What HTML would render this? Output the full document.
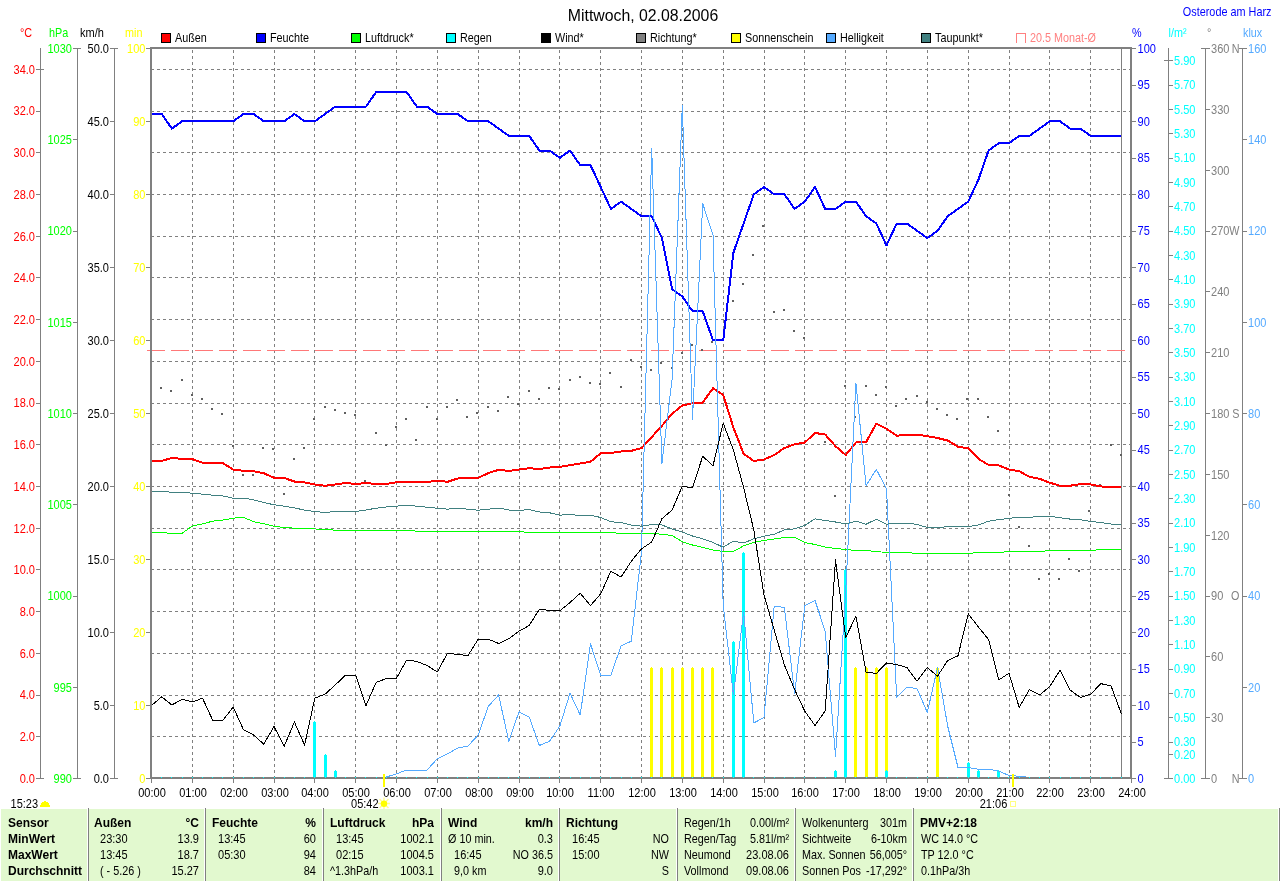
<!DOCTYPE html>
<html lang="de"><head><meta charset="utf-8"><title>Mittwoch, 02.08.2006</title>
<style>html,body{margin:0;padding:0;background:#fff}body{width:1280px;height:881px;overflow:hidden}svg{display:block;will-change:transform;font-family:"Liberation Sans",sans-serif;font-size:12px}</style></head><body>
<svg width="1280" height="881" viewBox="0 0 1280 881">
<rect width="1280" height="881" fill="#fff"/>
<text transform="translate(643 20.6) scale(0.99 1)" fill="#000" text-anchor="middle" font-size="16">Mittwoch, 02.08.2006</text>
<text transform="translate(1271.5 15.8) scale(0.905 1)" fill="#0000ff" text-anchor="end">Osterode am Harz</text>
<rect x="161.5" y="33.5" width="9" height="9" fill="#ff0000" stroke="#000" shape-rendering="crispEdges"/>
<text transform="translate(175 42) scale(0.9 1)" fill="#000">Außen</text>
<rect x="256.5" y="33.5" width="9" height="9" fill="#0000ff" stroke="#000" shape-rendering="crispEdges"/>
<text transform="translate(270 42) scale(0.9 1)" fill="#000">Feuchte</text>
<rect x="351.5" y="33.5" width="9" height="9" fill="#00ff00" stroke="#000" shape-rendering="crispEdges"/>
<text transform="translate(365 42) scale(0.9 1)" fill="#000">Luftdruck*</text>
<rect x="446.5" y="33.5" width="9" height="9" fill="#00ffff" stroke="#000" shape-rendering="crispEdges"/>
<text transform="translate(460 42) scale(0.9 1)" fill="#000">Regen</text>
<rect x="541.5" y="33.5" width="9" height="9" fill="#000" stroke="#000" shape-rendering="crispEdges"/>
<text transform="translate(555 42) scale(0.9 1)" fill="#000">Wind*</text>
<rect x="636.5" y="33.5" width="9" height="9" fill="#808080" stroke="#000" shape-rendering="crispEdges"/>
<text transform="translate(650 42) scale(0.9 1)" fill="#000">Richtung*</text>
<rect x="731.5" y="33.5" width="9" height="9" fill="#ffff00" stroke="#000" shape-rendering="crispEdges"/>
<text transform="translate(745 42) scale(0.9 1)" fill="#000">Sonnenschein</text>
<rect x="826.5" y="33.5" width="9" height="9" fill="#55aaff" stroke="#000" shape-rendering="crispEdges"/>
<text transform="translate(840 42) scale(0.9 1)" fill="#000">Helligkeit</text>
<rect x="921.5" y="33.5" width="9" height="9" fill="#408080" stroke="#000" shape-rendering="crispEdges"/>
<text transform="translate(935 42) scale(0.9 1)" fill="#000">Taupunkt*</text>
<path d="M1016.5 43V33.5h9V43" fill="none" stroke="#ff8080" shape-rendering="crispEdges"/>
<text transform="translate(1030 42) scale(0.9 1)" fill="#ff8080">20.5 Monat-Ø</text>
<g shape-rendering="crispEdges">
<text transform="translate(20 37) scale(0.9 1)" fill="#ff0000">°C</text>
<text transform="translate(49 37) scale(0.9 1)" fill="#00ff00">hPa</text>
<text transform="translate(80 37) scale(0.92 1)" fill="#000">km/h</text>
<text transform="translate(125 37) scale(0.9 1)" fill="#ffff00">min</text>
<text transform="translate(1132 37) scale(0.9 1)" fill="#0000ff">%</text>
<text transform="translate(1168.5 37) scale(0.9 1)" fill="#00ffff">l/m²</text>
<text transform="translate(1207 37) scale(0.9 1)" fill="#808080">°</text>
<text transform="translate(1243 37) scale(0.9 1)" fill="#55aaff">klux</text>
<line x1="40.5" y1="48" x2="40.5" y2="779" stroke="#808080" stroke-width="1"/>
<line x1="36" y1="778.5" x2="44" y2="778.5" stroke="#808080" stroke-width="1"/>
<text transform="translate(35 782.9) scale(0.92 1)" fill="#ff0000" text-anchor="end">0.0</text>
<line x1="36" y1="736.786" x2="41" y2="736.786" stroke="#808080" stroke-width="1"/>
<text transform="translate(35 741.186) scale(0.92 1)" fill="#ff0000" text-anchor="end">2.0</text>
<line x1="36" y1="695.071" x2="41" y2="695.071" stroke="#808080" stroke-width="1"/>
<text transform="translate(35 699.471) scale(0.92 1)" fill="#ff0000" text-anchor="end">4.0</text>
<line x1="36" y1="653.357" x2="41" y2="653.357" stroke="#808080" stroke-width="1"/>
<text transform="translate(35 657.757) scale(0.92 1)" fill="#ff0000" text-anchor="end">6.0</text>
<line x1="36" y1="611.643" x2="41" y2="611.643" stroke="#808080" stroke-width="1"/>
<text transform="translate(35 616.043) scale(0.92 1)" fill="#ff0000" text-anchor="end">8.0</text>
<line x1="36" y1="569.929" x2="41" y2="569.929" stroke="#808080" stroke-width="1"/>
<text transform="translate(35 574.329) scale(0.92 1)" fill="#ff0000" text-anchor="end">10.0</text>
<line x1="36" y1="528.214" x2="41" y2="528.214" stroke="#808080" stroke-width="1"/>
<text transform="translate(35 532.614) scale(0.92 1)" fill="#ff0000" text-anchor="end">12.0</text>
<line x1="36" y1="486.5" x2="41" y2="486.5" stroke="#808080" stroke-width="1"/>
<text transform="translate(35 490.9) scale(0.92 1)" fill="#ff0000" text-anchor="end">14.0</text>
<line x1="36" y1="444.786" x2="41" y2="444.786" stroke="#808080" stroke-width="1"/>
<text transform="translate(35 449.186) scale(0.92 1)" fill="#ff0000" text-anchor="end">16.0</text>
<line x1="36" y1="403.071" x2="41" y2="403.071" stroke="#808080" stroke-width="1"/>
<text transform="translate(35 407.471) scale(0.92 1)" fill="#ff0000" text-anchor="end">18.0</text>
<line x1="36" y1="361.357" x2="41" y2="361.357" stroke="#808080" stroke-width="1"/>
<text transform="translate(35 365.757) scale(0.92 1)" fill="#ff0000" text-anchor="end">20.0</text>
<line x1="36" y1="319.643" x2="41" y2="319.643" stroke="#808080" stroke-width="1"/>
<text transform="translate(35 324.043) scale(0.92 1)" fill="#ff0000" text-anchor="end">22.0</text>
<line x1="36" y1="277.929" x2="41" y2="277.929" stroke="#808080" stroke-width="1"/>
<text transform="translate(35 282.329) scale(0.92 1)" fill="#ff0000" text-anchor="end">24.0</text>
<line x1="36" y1="236.214" x2="41" y2="236.214" stroke="#808080" stroke-width="1"/>
<text transform="translate(35 240.614) scale(0.92 1)" fill="#ff0000" text-anchor="end">26.0</text>
<line x1="36" y1="194.5" x2="41" y2="194.5" stroke="#808080" stroke-width="1"/>
<text transform="translate(35 198.9) scale(0.92 1)" fill="#ff0000" text-anchor="end">28.0</text>
<line x1="36" y1="152.786" x2="41" y2="152.786" stroke="#808080" stroke-width="1"/>
<text transform="translate(35 157.186) scale(0.92 1)" fill="#ff0000" text-anchor="end">30.0</text>
<line x1="36" y1="111.071" x2="41" y2="111.071" stroke="#808080" stroke-width="1"/>
<text transform="translate(35 115.471) scale(0.92 1)" fill="#ff0000" text-anchor="end">32.0</text>
<line x1="36" y1="69.3571" x2="44" y2="69.3571" stroke="#808080" stroke-width="1"/>
<text transform="translate(35 73.7571) scale(0.92 1)" fill="#ff0000" text-anchor="end">34.0</text>
<line x1="77.5" y1="48" x2="77.5" y2="779" stroke="#808080" stroke-width="1"/>
<line x1="73" y1="778.5" x2="81" y2="778.5" stroke="#808080" stroke-width="1"/>
<text transform="translate(72 782.9) scale(0.92 1)" fill="#00ff00" text-anchor="end">990</text>
<line x1="73" y1="687.25" x2="78" y2="687.25" stroke="#808080" stroke-width="1"/>
<text transform="translate(72 691.65) scale(0.92 1)" fill="#00ff00" text-anchor="end">995</text>
<line x1="73" y1="596" x2="78" y2="596" stroke="#808080" stroke-width="1"/>
<text transform="translate(72 600.4) scale(0.92 1)" fill="#00ff00" text-anchor="end">1000</text>
<line x1="73" y1="504.75" x2="78" y2="504.75" stroke="#808080" stroke-width="1"/>
<text transform="translate(72 509.15) scale(0.92 1)" fill="#00ff00" text-anchor="end">1005</text>
<line x1="73" y1="413.5" x2="78" y2="413.5" stroke="#808080" stroke-width="1"/>
<text transform="translate(72 417.9) scale(0.92 1)" fill="#00ff00" text-anchor="end">1010</text>
<line x1="73" y1="322.25" x2="78" y2="322.25" stroke="#808080" stroke-width="1"/>
<text transform="translate(72 326.65) scale(0.92 1)" fill="#00ff00" text-anchor="end">1015</text>
<line x1="73" y1="231" x2="78" y2="231" stroke="#808080" stroke-width="1"/>
<text transform="translate(72 235.4) scale(0.92 1)" fill="#00ff00" text-anchor="end">1020</text>
<line x1="73" y1="139.75" x2="78" y2="139.75" stroke="#808080" stroke-width="1"/>
<text transform="translate(72 144.15) scale(0.92 1)" fill="#00ff00" text-anchor="end">1025</text>
<line x1="73" y1="48.5" x2="81" y2="48.5" stroke="#808080" stroke-width="1"/>
<text transform="translate(72 52.9) scale(0.92 1)" fill="#00ff00" text-anchor="end">1030</text>
<line x1="114.5" y1="48" x2="114.5" y2="779" stroke="#808080" stroke-width="1"/>
<line x1="110" y1="778.5" x2="118" y2="778.5" stroke="#808080" stroke-width="1"/>
<text transform="translate(109 782.9) scale(0.92 1)" fill="#000" text-anchor="end">0.0</text>
<line x1="110" y1="705.5" x2="115" y2="705.5" stroke="#808080" stroke-width="1"/>
<text transform="translate(109 709.9) scale(0.92 1)" fill="#000" text-anchor="end">5.0</text>
<line x1="110" y1="632.5" x2="115" y2="632.5" stroke="#808080" stroke-width="1"/>
<text transform="translate(109 636.9) scale(0.92 1)" fill="#000" text-anchor="end">10.0</text>
<line x1="110" y1="559.5" x2="115" y2="559.5" stroke="#808080" stroke-width="1"/>
<text transform="translate(109 563.9) scale(0.92 1)" fill="#000" text-anchor="end">15.0</text>
<line x1="110" y1="486.5" x2="115" y2="486.5" stroke="#808080" stroke-width="1"/>
<text transform="translate(109 490.9) scale(0.92 1)" fill="#000" text-anchor="end">20.0</text>
<line x1="110" y1="413.5" x2="115" y2="413.5" stroke="#808080" stroke-width="1"/>
<text transform="translate(109 417.9) scale(0.92 1)" fill="#000" text-anchor="end">25.0</text>
<line x1="110" y1="340.5" x2="115" y2="340.5" stroke="#808080" stroke-width="1"/>
<text transform="translate(109 344.9) scale(0.92 1)" fill="#000" text-anchor="end">30.0</text>
<line x1="110" y1="267.5" x2="115" y2="267.5" stroke="#808080" stroke-width="1"/>
<text transform="translate(109 271.9) scale(0.92 1)" fill="#000" text-anchor="end">35.0</text>
<line x1="110" y1="194.5" x2="115" y2="194.5" stroke="#808080" stroke-width="1"/>
<text transform="translate(109 198.9) scale(0.92 1)" fill="#000" text-anchor="end">40.0</text>
<line x1="110" y1="121.5" x2="115" y2="121.5" stroke="#808080" stroke-width="1"/>
<text transform="translate(109 125.9) scale(0.92 1)" fill="#000" text-anchor="end">45.0</text>
<line x1="110" y1="48.5" x2="118" y2="48.5" stroke="#808080" stroke-width="1"/>
<text transform="translate(109 52.9) scale(0.92 1)" fill="#000" text-anchor="end">50.0</text>
<line x1="146" y1="778.5" x2="150" y2="778.5" stroke="#808080" stroke-width="1"/>
<text transform="translate(145.5 782.9) scale(0.92 1)" fill="#ffff00" text-anchor="end">0</text>
<line x1="146" y1="705.5" x2="150" y2="705.5" stroke="#808080" stroke-width="1"/>
<text transform="translate(145.5 709.9) scale(0.92 1)" fill="#ffff00" text-anchor="end">10</text>
<line x1="146" y1="632.5" x2="150" y2="632.5" stroke="#808080" stroke-width="1"/>
<text transform="translate(145.5 636.9) scale(0.92 1)" fill="#ffff00" text-anchor="end">20</text>
<line x1="146" y1="559.5" x2="150" y2="559.5" stroke="#808080" stroke-width="1"/>
<text transform="translate(145.5 563.9) scale(0.92 1)" fill="#ffff00" text-anchor="end">30</text>
<line x1="146" y1="486.5" x2="150" y2="486.5" stroke="#808080" stroke-width="1"/>
<text transform="translate(145.5 490.9) scale(0.92 1)" fill="#ffff00" text-anchor="end">40</text>
<line x1="146" y1="413.5" x2="150" y2="413.5" stroke="#808080" stroke-width="1"/>
<text transform="translate(145.5 417.9) scale(0.92 1)" fill="#ffff00" text-anchor="end">50</text>
<line x1="146" y1="340.5" x2="150" y2="340.5" stroke="#808080" stroke-width="1"/>
<text transform="translate(145.5 344.9) scale(0.92 1)" fill="#ffff00" text-anchor="end">60</text>
<line x1="146" y1="267.5" x2="150" y2="267.5" stroke="#808080" stroke-width="1"/>
<text transform="translate(145.5 271.9) scale(0.92 1)" fill="#ffff00" text-anchor="end">70</text>
<line x1="146" y1="194.5" x2="150" y2="194.5" stroke="#808080" stroke-width="1"/>
<text transform="translate(145.5 198.9) scale(0.92 1)" fill="#ffff00" text-anchor="end">80</text>
<line x1="146" y1="121.5" x2="150" y2="121.5" stroke="#808080" stroke-width="1"/>
<text transform="translate(145.5 125.9) scale(0.92 1)" fill="#ffff00" text-anchor="end">90</text>
<line x1="146" y1="48.5" x2="150" y2="48.5" stroke="#808080" stroke-width="1"/>
<text transform="translate(145.5 52.9) scale(0.92 1)" fill="#ffff00" text-anchor="end">100</text>
<line x1="1132" y1="778.5" x2="1136" y2="778.5" stroke="#808080" stroke-width="1"/>
<text transform="translate(1137.5 782.9) scale(0.92 1)" fill="#0000ff">0</text>
<line x1="1132" y1="742" x2="1136" y2="742" stroke="#808080" stroke-width="1"/>
<text transform="translate(1137.5 746.4) scale(0.92 1)" fill="#0000ff">5</text>
<line x1="1132" y1="705.5" x2="1136" y2="705.5" stroke="#808080" stroke-width="1"/>
<text transform="translate(1137.5 709.9) scale(0.92 1)" fill="#0000ff">10</text>
<line x1="1132" y1="669" x2="1136" y2="669" stroke="#808080" stroke-width="1"/>
<text transform="translate(1137.5 673.4) scale(0.92 1)" fill="#0000ff">15</text>
<line x1="1132" y1="632.5" x2="1136" y2="632.5" stroke="#808080" stroke-width="1"/>
<text transform="translate(1137.5 636.9) scale(0.92 1)" fill="#0000ff">20</text>
<line x1="1132" y1="596" x2="1136" y2="596" stroke="#808080" stroke-width="1"/>
<text transform="translate(1137.5 600.4) scale(0.92 1)" fill="#0000ff">25</text>
<line x1="1132" y1="559.5" x2="1136" y2="559.5" stroke="#808080" stroke-width="1"/>
<text transform="translate(1137.5 563.9) scale(0.92 1)" fill="#0000ff">30</text>
<line x1="1132" y1="523" x2="1136" y2="523" stroke="#808080" stroke-width="1"/>
<text transform="translate(1137.5 527.4) scale(0.92 1)" fill="#0000ff">35</text>
<line x1="1132" y1="486.5" x2="1136" y2="486.5" stroke="#808080" stroke-width="1"/>
<text transform="translate(1137.5 490.9) scale(0.92 1)" fill="#0000ff">40</text>
<line x1="1132" y1="450" x2="1136" y2="450" stroke="#808080" stroke-width="1"/>
<text transform="translate(1137.5 454.4) scale(0.92 1)" fill="#0000ff">45</text>
<line x1="1132" y1="413.5" x2="1136" y2="413.5" stroke="#808080" stroke-width="1"/>
<text transform="translate(1137.5 417.9) scale(0.92 1)" fill="#0000ff">50</text>
<line x1="1132" y1="377" x2="1136" y2="377" stroke="#808080" stroke-width="1"/>
<text transform="translate(1137.5 381.4) scale(0.92 1)" fill="#0000ff">55</text>
<line x1="1132" y1="340.5" x2="1136" y2="340.5" stroke="#808080" stroke-width="1"/>
<text transform="translate(1137.5 344.9) scale(0.92 1)" fill="#0000ff">60</text>
<line x1="1132" y1="304" x2="1136" y2="304" stroke="#808080" stroke-width="1"/>
<text transform="translate(1137.5 308.4) scale(0.92 1)" fill="#0000ff">65</text>
<line x1="1132" y1="267.5" x2="1136" y2="267.5" stroke="#808080" stroke-width="1"/>
<text transform="translate(1137.5 271.9) scale(0.92 1)" fill="#0000ff">70</text>
<line x1="1132" y1="231" x2="1136" y2="231" stroke="#808080" stroke-width="1"/>
<text transform="translate(1137.5 235.4) scale(0.92 1)" fill="#0000ff">75</text>
<line x1="1132" y1="194.5" x2="1136" y2="194.5" stroke="#808080" stroke-width="1"/>
<text transform="translate(1137.5 198.9) scale(0.92 1)" fill="#0000ff">80</text>
<line x1="1132" y1="158" x2="1136" y2="158" stroke="#808080" stroke-width="1"/>
<text transform="translate(1137.5 162.4) scale(0.92 1)" fill="#0000ff">85</text>
<line x1="1132" y1="121.5" x2="1136" y2="121.5" stroke="#808080" stroke-width="1"/>
<text transform="translate(1137.5 125.9) scale(0.92 1)" fill="#0000ff">90</text>
<line x1="1132" y1="85" x2="1136" y2="85" stroke="#808080" stroke-width="1"/>
<text transform="translate(1137.5 89.4) scale(0.92 1)" fill="#0000ff">95</text>
<line x1="1132" y1="48.5" x2="1136" y2="48.5" stroke="#808080" stroke-width="1"/>
<text transform="translate(1137.5 52.9) scale(0.92 1)" fill="#0000ff">100</text>
<line x1="1168.5" y1="48" x2="1168.5" y2="779" stroke="#808080" stroke-width="1"/>
<line x1="1164" y1="778.5" x2="1173" y2="778.5" stroke="#808080" stroke-width="1"/>
<text transform="translate(1174 782.9) scale(0.92 1)" fill="#00ffff">0.00</text>
<line x1="1168" y1="754.167" x2="1173" y2="754.167" stroke="#808080" stroke-width="1"/>
<text transform="translate(1174 758.567) scale(0.92 1)" fill="#00ffff">0.20</text>
<line x1="1168" y1="742" x2="1173" y2="742" stroke="#808080" stroke-width="1"/>
<text transform="translate(1174 746.4) scale(0.92 1)" fill="#00ffff">0.30</text>
<line x1="1168" y1="717.667" x2="1173" y2="717.667" stroke="#808080" stroke-width="1"/>
<text transform="translate(1174 722.067) scale(0.92 1)" fill="#00ffff">0.50</text>
<line x1="1168" y1="693.333" x2="1173" y2="693.333" stroke="#808080" stroke-width="1"/>
<text transform="translate(1174 697.733) scale(0.92 1)" fill="#00ffff">0.70</text>
<line x1="1168" y1="669" x2="1173" y2="669" stroke="#808080" stroke-width="1"/>
<text transform="translate(1174 673.4) scale(0.92 1)" fill="#00ffff">0.90</text>
<line x1="1168" y1="644.667" x2="1173" y2="644.667" stroke="#808080" stroke-width="1"/>
<text transform="translate(1174 649.067) scale(0.92 1)" fill="#00ffff">1.10</text>
<line x1="1168" y1="620.333" x2="1173" y2="620.333" stroke="#808080" stroke-width="1"/>
<text transform="translate(1174 624.733) scale(0.92 1)" fill="#00ffff">1.30</text>
<line x1="1168" y1="596" x2="1173" y2="596" stroke="#808080" stroke-width="1"/>
<text transform="translate(1174 600.4) scale(0.92 1)" fill="#00ffff">1.50</text>
<line x1="1168" y1="571.667" x2="1173" y2="571.667" stroke="#808080" stroke-width="1"/>
<text transform="translate(1174 576.067) scale(0.92 1)" fill="#00ffff">1.70</text>
<line x1="1168" y1="547.333" x2="1173" y2="547.333" stroke="#808080" stroke-width="1"/>
<text transform="translate(1174 551.733) scale(0.92 1)" fill="#00ffff">1.90</text>
<line x1="1168" y1="523" x2="1173" y2="523" stroke="#808080" stroke-width="1"/>
<text transform="translate(1174 527.4) scale(0.92 1)" fill="#00ffff">2.10</text>
<line x1="1168" y1="498.667" x2="1173" y2="498.667" stroke="#808080" stroke-width="1"/>
<text transform="translate(1174 503.067) scale(0.92 1)" fill="#00ffff">2.30</text>
<line x1="1168" y1="474.333" x2="1173" y2="474.333" stroke="#808080" stroke-width="1"/>
<text transform="translate(1174 478.733) scale(0.92 1)" fill="#00ffff">2.50</text>
<line x1="1168" y1="450" x2="1173" y2="450" stroke="#808080" stroke-width="1"/>
<text transform="translate(1174 454.4) scale(0.92 1)" fill="#00ffff">2.70</text>
<line x1="1168" y1="425.667" x2="1173" y2="425.667" stroke="#808080" stroke-width="1"/>
<text transform="translate(1174 430.067) scale(0.92 1)" fill="#00ffff">2.90</text>
<line x1="1168" y1="401.333" x2="1173" y2="401.333" stroke="#808080" stroke-width="1"/>
<text transform="translate(1174 405.733) scale(0.92 1)" fill="#00ffff">3.10</text>
<line x1="1168" y1="377" x2="1173" y2="377" stroke="#808080" stroke-width="1"/>
<text transform="translate(1174 381.4) scale(0.92 1)" fill="#00ffff">3.30</text>
<line x1="1168" y1="352.667" x2="1173" y2="352.667" stroke="#808080" stroke-width="1"/>
<text transform="translate(1174 357.067) scale(0.92 1)" fill="#00ffff">3.50</text>
<line x1="1168" y1="328.333" x2="1173" y2="328.333" stroke="#808080" stroke-width="1"/>
<text transform="translate(1174 332.733) scale(0.92 1)" fill="#00ffff">3.70</text>
<line x1="1168" y1="304" x2="1173" y2="304" stroke="#808080" stroke-width="1"/>
<text transform="translate(1174 308.4) scale(0.92 1)" fill="#00ffff">3.90</text>
<line x1="1168" y1="279.667" x2="1173" y2="279.667" stroke="#808080" stroke-width="1"/>
<text transform="translate(1174 284.067) scale(0.92 1)" fill="#00ffff">4.10</text>
<line x1="1168" y1="255.333" x2="1173" y2="255.333" stroke="#808080" stroke-width="1"/>
<text transform="translate(1174 259.733) scale(0.92 1)" fill="#00ffff">4.30</text>
<line x1="1168" y1="231" x2="1173" y2="231" stroke="#808080" stroke-width="1"/>
<text transform="translate(1174 235.4) scale(0.92 1)" fill="#00ffff">4.50</text>
<line x1="1168" y1="206.667" x2="1173" y2="206.667" stroke="#808080" stroke-width="1"/>
<text transform="translate(1174 211.067) scale(0.92 1)" fill="#00ffff">4.70</text>
<line x1="1168" y1="182.333" x2="1173" y2="182.333" stroke="#808080" stroke-width="1"/>
<text transform="translate(1174 186.733) scale(0.92 1)" fill="#00ffff">4.90</text>
<line x1="1168" y1="158" x2="1173" y2="158" stroke="#808080" stroke-width="1"/>
<text transform="translate(1174 162.4) scale(0.92 1)" fill="#00ffff">5.10</text>
<line x1="1168" y1="133.667" x2="1173" y2="133.667" stroke="#808080" stroke-width="1"/>
<text transform="translate(1174 138.067) scale(0.92 1)" fill="#00ffff">5.30</text>
<line x1="1168" y1="109.333" x2="1173" y2="109.333" stroke="#808080" stroke-width="1"/>
<text transform="translate(1174 113.733) scale(0.92 1)" fill="#00ffff">5.50</text>
<line x1="1168" y1="85" x2="1173" y2="85" stroke="#808080" stroke-width="1"/>
<text transform="translate(1174 89.4) scale(0.92 1)" fill="#00ffff">5.70</text>
<line x1="1164" y1="60.6667" x2="1173" y2="60.6667" stroke="#808080" stroke-width="1"/>
<text transform="translate(1174 65.0667) scale(0.92 1)" fill="#00ffff">5.90</text>
<line x1="1205.5" y1="48" x2="1205.5" y2="779" stroke="#808080" stroke-width="1"/>
<line x1="1201" y1="778.5" x2="1210" y2="778.5" stroke="#808080" stroke-width="1"/>
<text transform="translate(1211 782.9) scale(0.92 1)" fill="#808080">0</text>
<text transform="translate(1239.5 782.9) scale(0.9 1)" fill="#808080" text-anchor="end">N</text>
<line x1="1205" y1="717.667" x2="1210" y2="717.667" stroke="#808080" stroke-width="1"/>
<text transform="translate(1211 722.067) scale(0.92 1)" fill="#808080">30</text>
<line x1="1205" y1="656.833" x2="1210" y2="656.833" stroke="#808080" stroke-width="1"/>
<text transform="translate(1211 661.233) scale(0.92 1)" fill="#808080">60</text>
<line x1="1205" y1="596" x2="1210" y2="596" stroke="#808080" stroke-width="1"/>
<text transform="translate(1211 600.4) scale(0.92 1)" fill="#808080">90</text>
<text transform="translate(1239.5 600.4) scale(0.9 1)" fill="#808080" text-anchor="end">O</text>
<line x1="1205" y1="535.167" x2="1210" y2="535.167" stroke="#808080" stroke-width="1"/>
<text transform="translate(1211 539.567) scale(0.92 1)" fill="#808080">120</text>
<line x1="1205" y1="474.333" x2="1210" y2="474.333" stroke="#808080" stroke-width="1"/>
<text transform="translate(1211 478.733) scale(0.92 1)" fill="#808080">150</text>
<line x1="1205" y1="413.5" x2="1210" y2="413.5" stroke="#808080" stroke-width="1"/>
<text transform="translate(1211 417.9) scale(0.92 1)" fill="#808080">180</text>
<text transform="translate(1239.5 417.9) scale(0.9 1)" fill="#808080" text-anchor="end">S</text>
<line x1="1205" y1="352.667" x2="1210" y2="352.667" stroke="#808080" stroke-width="1"/>
<text transform="translate(1211 357.067) scale(0.92 1)" fill="#808080">210</text>
<line x1="1205" y1="291.833" x2="1210" y2="291.833" stroke="#808080" stroke-width="1"/>
<text transform="translate(1211 296.233) scale(0.92 1)" fill="#808080">240</text>
<line x1="1205" y1="231" x2="1210" y2="231" stroke="#808080" stroke-width="1"/>
<text transform="translate(1211 235.4) scale(0.92 1)" fill="#808080">270</text>
<text transform="translate(1239.5 235.4) scale(0.9 1)" fill="#808080" text-anchor="end">W</text>
<line x1="1205" y1="170.167" x2="1210" y2="170.167" stroke="#808080" stroke-width="1"/>
<text transform="translate(1211 174.567) scale(0.92 1)" fill="#808080">300</text>
<line x1="1205" y1="109.333" x2="1210" y2="109.333" stroke="#808080" stroke-width="1"/>
<text transform="translate(1211 113.733) scale(0.92 1)" fill="#808080">330</text>
<line x1="1201" y1="48.5" x2="1210" y2="48.5" stroke="#808080" stroke-width="1"/>
<text transform="translate(1211 52.9) scale(0.92 1)" fill="#808080">360</text>
<text transform="translate(1239.5 52.9) scale(0.9 1)" fill="#808080" text-anchor="end">N</text>
<line x1="1242.5" y1="48" x2="1242.5" y2="779" stroke="#808080" stroke-width="1"/>
<line x1="1239" y1="778.5" x2="1247" y2="778.5" stroke="#808080" stroke-width="1"/>
<text transform="translate(1248 782.9) scale(0.92 1)" fill="#55aaff">0</text>
<line x1="1242" y1="687.25" x2="1247" y2="687.25" stroke="#808080" stroke-width="1"/>
<text transform="translate(1248 691.65) scale(0.92 1)" fill="#55aaff">20</text>
<line x1="1242" y1="596" x2="1247" y2="596" stroke="#808080" stroke-width="1"/>
<text transform="translate(1248 600.4) scale(0.92 1)" fill="#55aaff">40</text>
<line x1="1242" y1="504.75" x2="1247" y2="504.75" stroke="#808080" stroke-width="1"/>
<text transform="translate(1248 509.15) scale(0.92 1)" fill="#55aaff">60</text>
<line x1="1242" y1="413.5" x2="1247" y2="413.5" stroke="#808080" stroke-width="1"/>
<text transform="translate(1248 417.9) scale(0.92 1)" fill="#55aaff">80</text>
<line x1="1242" y1="322.25" x2="1247" y2="322.25" stroke="#808080" stroke-width="1"/>
<text transform="translate(1248 326.65) scale(0.92 1)" fill="#55aaff">100</text>
<line x1="1242" y1="231" x2="1247" y2="231" stroke="#808080" stroke-width="1"/>
<text transform="translate(1248 235.4) scale(0.92 1)" fill="#55aaff">120</text>
<line x1="1242" y1="139.75" x2="1247" y2="139.75" stroke="#808080" stroke-width="1"/>
<text transform="translate(1248 144.15) scale(0.92 1)" fill="#55aaff">140</text>
<line x1="1239" y1="48.5" x2="1247" y2="48.5" stroke="#808080" stroke-width="1"/>
<text transform="translate(1248 52.9) scale(0.92 1)" fill="#55aaff">160</text>
</g>
<g shape-rendering="crispEdges">
<path d="M151 736.5H1130M151 695.5H1130M151 653.5H1130M151 611.5H1130M151 569.5H1130M151 528.5H1130M151 486.5H1130M151 444.5H1130M151 403.5H1130M151 361.5H1130M151 319.5H1130M151 277.5H1130M151 236.5H1130M151 194.5H1130M151 152.5H1130M151 111.5H1130M151 69.5H1130M192.5 50V777M233.5 50V777M274.5 50V777M314.5 50V777M355.5 50V777M396.5 50V777M437.5 50V777M478.5 50V777M519.5 50V777M559.5 50V777M600.5 50V777M641.5 50V777M682.5 50V777M723.5 50V777M764.5 50V777M804.5 50V777M845.5 50V777M886.5 50V777M927.5 50V777M968.5 50V777M1009.5 50V777M1049.5 50V777M1090.5 50V777" stroke="#808080" stroke-width="1" stroke-dasharray="3 3" fill="none"/>
<line x1="1121.5" y1="49" x2="1121.5" y2="778" stroke="#808080" stroke-width="1"/>
</g>
<line x1="147" y1="350.5" x2="1125" y2="350.5" stroke="#ff7878" stroke-width="1" stroke-dasharray="18 6" shape-rendering="crispEdges"/>
<g shape-rendering="crispEdges">
<path d="M650 668h1v-1h1v1h1v110h-3zM660 668h1v-1h1v1h1v110h-3zM671 668h1v-1h1v1h1v110h-3zM681 668h1v-1h1v1h1v110h-3zM691 668h1v-1h1v1h1v110h-3zM701 668h1v-1h1v1h1v110h-3zM711 668h1v-1h1v1h1v110h-3zM854 668h1v-1h1v1h1v110h-3zM865 668h1v-1h1v1h1v110h-3zM875 668h1v-1h1v1h1v110h-3zM885 668h1v-1h1v1h1v110h-3zM936 668h1v-1h1v1h1v110h-3z" fill="#ffff00"/>
<path d="M313 722h1v-1h1v1h1v56h-3zM324 755h1v-1h1v1h1v23h-3zM334 771h1v-1h1v1h1v7h-3zM732 642h1v-1h1v1h1v136h-3zM742 553h1v-1h1v1h1v225h-3zM834 771h1v-1h1v1h1v7h-3zM844 570h1v-1h1v1h1v208h-3zM885 771h1v-1h1v1h1v7h-3zM967 763h1v-1h1v1h1v15h-3zM977 771h1v-1h1v1h1v7h-3zM997 771h1v-1h1v1h1v7h-3z" fill="#00ffff"/>
</g>
<path d="M160 387h2v2h-2zM170 390h2v2h-2zM181 379h2v2h-2zM191 394h2v2h-2zM201 398h2v2h-2zM211 408h2v2h-2zM221 413h2v2h-2zM232 445h2v2h-2zM242 474h2v2h-2zM252 474h2v2h-2zM262 447h2v2h-2zM272 448h2v2h-2zM283 493h2v2h-2zM293 458h2v2h-2zM303 447h2v2h-2zM313 418h2v2h-2zM324 406h2v2h-2zM334 409h2v2h-2zM344 412h2v2h-2zM354 414h2v2h-2zM364 480h2v2h-2zM375 432h2v2h-2zM385 444h2v2h-2zM395 426h2v2h-2zM405 418h2v2h-2zM415 439h2v2h-2zM426 406h2v2h-2zM436 418h2v2h-2zM446 406h2v2h-2zM456 399h2v2h-2zM466 416h2v2h-2zM476 412h2v2h-2zM487 406h2v2h-2zM497 410h2v2h-2zM507 396h2v2h-2zM517 403h2v2h-2zM528 390h2v2h-2zM538 398h2v2h-2zM548 387h2v2h-2zM558 388h2v2h-2zM569 379h2v2h-2zM579 376h2v2h-2zM589 382h2v2h-2zM599 383h2v2h-2zM609 372h2v2h-2zM620 386h2v2h-2zM630 359h2v2h-2zM640 366h2v2h-2zM650 369h2v2h-2zM660 362h2v2h-2zM671 367h2v2h-2zM681 352h2v2h-2zM691 344h2v2h-2zM701 349h2v2h-2zM711 341h2v2h-2zM732 300h2v2h-2zM742 283h2v2h-2zM752 254h2v2h-2zM762 225h2v2h-2zM773 311h2v2h-2zM783 309h2v2h-2zM793 330h2v2h-2zM803 337h2v2h-2zM824 441h2v2h-2zM834 495h2v2h-2zM844 385h2v2h-2zM854 416h2v2h-2zM865 385h2v2h-2zM875 394h2v2h-2zM885 386h2v2h-2zM895 405h2v2h-2zM905 398h2v2h-2zM916 395h2v2h-2zM926 401h2v2h-2zM936 408h2v2h-2zM946 414h2v2h-2zM956 418h2v2h-2zM966 398h2v2h-2zM977 398h2v2h-2zM987 416h2v2h-2zM997 430h2v2h-2zM1008 494h2v2h-2zM1018 526h2v2h-2zM1028 545h2v2h-2zM1038 578h2v2h-2zM1048 573h2v2h-2zM1058 578h2v2h-2zM1068 558h2v2h-2zM1078 570h2v2h-2zM1088 510h2v2h-2zM1099 484h2v2h-2zM1110 444h2v2h-2zM1120 454h2v2h-2z" fill="#606060" shape-rendering="crispEdges"/>
<polyline points="151.5,461.2 161.7,460.8 171.9,458.0 182.1,458.8 192.3,459.0 202.5,462.8 212.7,463.0 223.0,463.2 233.2,469.5 243.4,470.8 253.6,471.2 263.8,473.2 274.0,477.8 284.2,478.0 294.4,481.5 304.6,482.5 314.8,484.5 325.0,485.8 335.2,484.5 345.5,483.0 355.7,484.0 365.9,483.0 376.1,484.0 386.3,484.0 396.5,482.2 406.7,482.0 416.9,482.0 427.1,482.0 437.3,480.8 447.5,481.8 457.7,478.5 468.0,478.0 478.2,478.0 488.4,473.0 498.6,469.8 508.8,471.0 519.0,469.5 529.2,468.2 539.4,469.0 549.6,467.5 559.8,466.8 570.0,465.2 580.2,463.5 590.5,461.8 600.7,453.2 610.9,453.0 621.1,451.5 631.3,450.8 641.5,448.2 651.7,437.0 661.9,425.8 672.1,413.8 682.3,405.5 692.5,403.2 702.7,402.5 713.0,388.2 723.2,395.0 733.4,427.5 743.6,453.8 753.8,461.0 764.0,459.5 774.2,455.0 784.4,448.0 794.6,444.2 804.8,442.5 815.0,433.0 825.2,434.5 835.5,446.2 845.7,455.0 855.9,442.5 866.1,442.0 876.3,423.8 886.5,428.8 896.7,435.8 906.9,434.5 917.1,434.5 927.3,436.2 937.5,438.0 947.7,440.5 958.0,446.8 968.2,448.2 978.4,458.8 988.6,465.0 998.8,465.5 1009.0,469.5 1019.2,471.2 1029.4,476.8 1039.6,478.8 1049.8,482.7 1060.0,485.7 1070.2,485.7 1080.5,484.2 1090.7,484.4 1100.9,486.4 1111.1,487.4 1121.3,486.6" fill="none" stroke="#ff0000" stroke-width="2" stroke-linejoin="round" shape-rendering="crispEdges"/>
<polyline points="151.5,114.0 161.7,114.0 171.9,128.6 182.1,121.3 192.3,121.3 202.5,121.3 212.7,121.3 223.0,121.3 233.2,121.3 243.4,114.0 253.6,114.0 263.8,121.3 274.0,121.3 284.2,121.3 294.4,114.0 304.6,121.3 314.8,121.3 325.0,114.0 335.2,106.7 345.5,106.7 355.7,106.7 365.9,106.7 376.1,92.1 386.3,92.1 396.5,92.1 406.7,92.1 416.9,106.7 427.1,106.7 437.3,114.0 447.5,114.0 457.7,114.0 468.0,121.3 478.2,121.3 488.4,121.3 498.6,128.6 508.8,135.9 519.0,135.9 529.2,135.9 539.4,150.5 549.6,150.5 559.8,157.8 570.0,150.5 580.2,165.1 590.5,165.1 600.7,187.0 610.9,208.9 621.1,201.6 631.3,208.9 641.5,216.2 651.7,216.2 661.9,238.1 672.1,289.2 682.3,296.5 692.5,311.1 702.7,311.1 713.0,340.3 723.2,340.3 733.4,252.7 743.6,223.5 753.8,194.3 764.0,187.0 774.2,194.3 784.4,194.3 794.6,208.9 804.8,201.6 815.0,187.0 825.2,208.9 835.5,208.9 845.7,201.6 855.9,201.6 866.1,216.2 876.3,223.5 886.5,245.4 896.7,223.5 906.9,223.5 917.1,230.8 927.3,238.1 937.5,230.8 947.7,216.2 958.0,208.9 968.2,201.6 978.4,179.7 988.6,150.5 998.8,143.2 1009.0,143.2 1019.2,135.9 1029.4,135.9 1039.6,128.6 1049.8,121.3 1060.0,121.3 1070.2,128.6 1080.5,128.6 1090.7,135.9 1100.9,135.9 1111.1,135.9 1121.3,135.9" fill="none" stroke="#0000ff" stroke-width="2" stroke-linejoin="round" shape-rendering="crispEdges"/>
<polyline points="151.5,532.5 161.7,532.5 171.9,533.5 182.1,533.2 192.3,526.2 202.5,523.8 212.7,521.2 223.0,520.0 233.2,518.2 243.4,517.2 253.6,521.8 263.8,523.8 274.0,526.2 284.2,527.5 294.4,528.2 304.6,528.5 314.8,529.0 325.0,529.2 335.2,530.2 345.5,530.2 355.7,530.2 365.9,530.2 376.1,530.2 386.3,530.2 396.5,530.2 406.7,530.2 416.9,531.2 427.1,531.2 437.3,531.2 447.5,531.2 457.7,531.2 468.0,531.5 478.2,531.5 488.4,531.5 498.6,531.5 508.8,531.5 519.0,531.5 529.2,532.5 539.4,532.5 549.6,532.5 559.8,532.5 570.0,532.5 580.2,532.5 590.5,532.5 600.7,532.5 610.9,532.5 621.1,533.5 631.3,533.5 641.5,533.5 651.7,533.5 661.9,534.2 672.1,535.5 682.3,541.8 692.5,545.0 702.7,547.5 713.0,550.0 723.2,551.5 733.4,551.5 743.6,545.8 753.8,542.5 764.0,540.5 774.2,539.0 784.4,537.5 794.6,537.5 804.8,542.5 815.0,544.5 825.2,547.0 835.5,548.5 845.7,549.5 855.9,550.5 866.1,550.5 876.3,551.5 886.5,552.5 896.7,552.5 906.9,552.5 917.1,553.5 927.3,553.5 937.5,553.5 947.7,553.5 958.0,553.5 968.2,553.5 978.4,552.5 988.6,552.5 998.8,552.5 1009.0,551.5 1019.2,551.5 1029.4,551.5 1039.6,551.5 1049.8,550.5 1060.0,550.5 1070.2,550.5 1080.5,550.5 1090.7,550.5 1100.9,549.5 1111.1,549.5 1121.3,549.5" fill="none" stroke="#00ff00" stroke-width="1" stroke-linejoin="round" shape-rendering="crispEdges"/>
<polyline points="381.0,777.5 386.0,777.5 386.3,777.0 396.5,773.8 406.7,770.0 416.9,770.0 427.1,770.0 437.3,758.8 447.5,753.8 457.7,748.0 468.0,746.0 478.2,735.0 488.4,706.2 498.6,695.0 508.8,741.2 519.0,711.8 529.2,717.0 539.4,745.5 549.6,741.2 559.8,726.2 570.0,693.2 580.2,715.0 590.5,643.8 600.7,675.5 610.9,675.0 621.1,645.8 631.3,641.2 641.5,552.0 651.7,148.0 661.9,463.5 672.1,379.0 682.3,105.5 692.5,419.4 702.7,203.6 713.0,234.8 723.2,605.0 733.4,695.0 743.6,612.0 753.8,723.0 764.0,717.5 774.2,606.2 784.4,607.5 794.6,693.8 804.8,605.8 815.0,600.5 825.2,631.2 835.5,756.2 845.7,592.0 855.9,383.0 866.1,485.6 876.3,469.4 886.5,488.6 896.7,697.5 906.9,687.0 917.1,688.8 927.3,712.5 937.5,667.5 947.7,726.2 958.0,767.5 968.2,767.5 978.4,769.2 988.6,769.2 998.8,771.2 1009.0,775.5 1019.2,776.2 1029.4,777.5 1039.6,777.5" fill="none" stroke="#55aaff" stroke-width="1" stroke-linejoin="round" shape-rendering="crispEdges"/>
<polyline points="151.5,491.2 161.7,491.5 171.9,492.2 182.1,492.2 192.3,493.2 202.5,494.2 212.7,495.2 223.0,496.0 233.2,498.2 243.4,498.2 253.6,499.8 263.8,502.5 274.0,504.8 284.2,506.2 294.4,507.8 304.6,510.2 314.8,511.5 325.0,512.5 335.2,511.5 345.5,511.5 355.7,511.5 365.9,510.0 376.1,508.2 386.3,507.0 396.5,506.2 406.7,505.2 416.9,506.2 427.1,507.2 437.3,508.2 447.5,509.2 457.7,508.2 468.0,509.2 478.2,510.2 488.4,509.2 498.6,508.0 508.8,510.0 519.0,510.5 529.2,509.5 539.4,512.0 549.6,512.8 559.8,515.2 570.0,514.2 580.2,516.0 590.5,515.2 600.7,517.5 610.9,521.8 621.1,522.5 631.3,525.0 641.5,526.2 651.7,524.5 661.9,525.0 672.1,529.0 682.3,532.0 692.5,536.0 702.7,538.8 713.0,542.5 723.2,547.2 733.4,541.2 743.6,543.0 753.8,538.8 764.0,536.2 774.2,534.2 784.4,530.0 794.6,528.8 804.8,525.5 815.0,518.8 825.2,520.5 835.5,522.0 845.7,524.0 855.9,521.2 866.1,524.2 876.3,519.2 886.5,524.2 896.7,523.0 906.9,523.0 917.1,524.5 927.3,527.5 937.5,528.0 947.7,526.5 958.0,526.5 968.2,526.5 978.4,525.0 988.6,521.2 998.8,519.5 1009.0,518.5 1019.2,517.0 1029.4,517.5 1039.6,516.2 1049.8,516.1 1060.0,517.8 1070.2,519.1 1080.5,519.8 1090.7,521.4 1100.9,522.6 1111.1,524.0 1121.3,524.6" fill="none" stroke="#408080" stroke-width="1" stroke-linejoin="round" shape-rendering="crispEdges"/>
<polyline points="151.5,705.5 161.7,696.8 171.9,705.0 182.1,699.2 192.3,702.0 202.5,698.2 212.7,720.2 223.0,720.2 233.2,707.0 243.4,729.5 253.6,735.0 263.8,744.2 274.0,726.5 284.2,746.2 294.4,722.0 304.6,745.0 314.8,698.2 325.0,694.2 335.2,685.0 345.5,675.2 355.7,675.2 365.9,705.8 376.1,682.5 386.3,678.5 396.5,678.2 406.7,660.0 416.9,661.5 427.1,665.5 437.3,672.0 447.5,653.2 457.7,654.5 468.0,655.5 478.2,639.2 488.4,639.2 498.6,643.5 508.8,638.8 519.0,631.2 529.2,625.5 539.4,609.2 549.6,610.5 559.8,610.8 570.0,602.5 580.2,593.2 590.5,605.5 600.7,593.8 610.9,571.2 621.1,577.0 631.3,561.2 641.5,548.8 651.7,542.0 661.9,518.8 672.1,510.0 682.3,486.2 692.5,488.0 702.7,456.2 713.0,465.8 723.2,423.2 733.4,450.0 743.6,487.5 753.8,530.0 764.0,595.0 774.2,630.0 784.4,665.0 794.6,689.5 804.8,711.2 815.0,725.5 825.2,710.8 835.5,560.0 845.7,637.5 855.9,616.2 866.1,672.0 876.3,673.5 886.5,663.0 896.7,664.5 906.9,667.5 917.1,681.2 927.3,667.5 937.5,676.2 947.7,660.5 958.0,655.8 968.2,613.8 978.4,627.0 988.6,639.5 998.8,680.0 1009.0,673.2 1019.2,707.5 1029.4,689.5 1039.6,695.0 1049.8,686.5 1060.0,670.2 1070.2,690.2 1080.5,697.4 1090.7,694.2 1100.9,683.6 1111.1,686.1 1121.3,713.6" fill="none" stroke="#000" stroke-width="1" stroke-linejoin="round" shape-rendering="crispEdges"/>
<g shape-rendering="crispEdges">
<rect x="151" y="48" width="980" height="730" fill="none" stroke="#808080" stroke-width="2"/>
<path d="M161 777h1v1h-1zM171 777h1v1h-1zM182 777h1v1h-1zM192 777h1v1h-1zM202 777h1v1h-1zM212 777h1v1h-1zM222 777h1v1h-1zM233 777h1v1h-1zM243 777h1v1h-1zM253 777h1v1h-1zM263 777h1v1h-1zM274 777h1v1h-1zM284 777h1v1h-1zM294 777h1v1h-1zM304 777h1v1h-1zM314 777h1v1h-1zM325 777h1v1h-1zM335 777h1v1h-1zM345 777h1v1h-1zM355 777h1v1h-1zM365 777h1v1h-1zM376 777h1v1h-1zM386 777h1v1h-1zM396 777h1v1h-1zM406 777h1v1h-1zM416 777h1v1h-1zM427 777h1v1h-1zM437 777h1v1h-1zM447 777h1v1h-1zM457 777h1v1h-1zM467 777h1v1h-1zM478 777h1v1h-1zM488 777h1v1h-1zM498 777h1v1h-1zM508 777h1v1h-1zM518 777h1v1h-1zM529 777h1v1h-1zM539 777h1v1h-1zM549 777h1v1h-1zM559 777h1v1h-1zM570 777h1v1h-1zM580 777h1v1h-1zM590 777h1v1h-1zM600 777h1v1h-1zM610 777h1v1h-1zM621 777h1v1h-1zM631 777h1v1h-1zM641 777h1v1h-1zM651 777h1v1h-1zM661 777h1v1h-1zM672 777h1v1h-1zM682 777h1v1h-1zM692 777h1v1h-1zM702 777h1v1h-1zM712 777h1v1h-1zM723 777h1v1h-1zM733 777h1v1h-1zM743 777h1v1h-1zM753 777h1v1h-1zM764 777h1v1h-1zM774 777h1v1h-1zM784 777h1v1h-1zM794 777h1v1h-1zM804 777h1v1h-1zM815 777h1v1h-1zM825 777h1v1h-1zM835 777h1v1h-1zM845 777h1v1h-1zM855 777h1v1h-1zM866 777h1v1h-1zM876 777h1v1h-1zM886 777h1v1h-1zM896 777h1v1h-1zM906 777h1v1h-1zM917 777h1v1h-1zM927 777h1v1h-1zM937 777h1v1h-1zM947 777h1v1h-1zM957 777h1v1h-1zM968 777h1v1h-1zM978 777h1v1h-1zM988 777h1v1h-1zM998 777h1v1h-1zM1008 777h1v1h-1zM1019 777h1v1h-1zM1029 777h1v1h-1zM1039 777h1v1h-1zM1049 777h1v1h-1zM1060 777h1v1h-1zM1070 777h1v1h-1zM1080 777h1v1h-1zM1090 777h1v1h-1zM1100 777h1v1h-1zM1111 777h1v1h-1zM1121 777h1v1h-1z" fill="#00ffff"/>
<line x1="151.5" y1="779" x2="151.5" y2="783" stroke="#808080" stroke-width="1"/>
<text transform="translate(152 797) scale(0.92 1)" fill="#000" text-anchor="middle">00:00</text>
<line x1="192.5" y1="779" x2="192.5" y2="783" stroke="#808080" stroke-width="1"/>
<text transform="translate(193 797) scale(0.92 1)" fill="#000" text-anchor="middle">01:00</text>
<line x1="233.5" y1="779" x2="233.5" y2="783" stroke="#808080" stroke-width="1"/>
<text transform="translate(234 797) scale(0.92 1)" fill="#000" text-anchor="middle">02:00</text>
<line x1="274.5" y1="779" x2="274.5" y2="783" stroke="#808080" stroke-width="1"/>
<text transform="translate(275 797) scale(0.92 1)" fill="#000" text-anchor="middle">03:00</text>
<line x1="314.5" y1="779" x2="314.5" y2="783" stroke="#808080" stroke-width="1"/>
<text transform="translate(315 797) scale(0.92 1)" fill="#000" text-anchor="middle">04:00</text>
<line x1="355.5" y1="779" x2="355.5" y2="783" stroke="#808080" stroke-width="1"/>
<text transform="translate(356 797) scale(0.92 1)" fill="#000" text-anchor="middle">05:00</text>
<line x1="396.5" y1="779" x2="396.5" y2="783" stroke="#808080" stroke-width="1"/>
<text transform="translate(397 797) scale(0.92 1)" fill="#000" text-anchor="middle">06:00</text>
<line x1="437.5" y1="779" x2="437.5" y2="783" stroke="#808080" stroke-width="1"/>
<text transform="translate(438 797) scale(0.92 1)" fill="#000" text-anchor="middle">07:00</text>
<line x1="478.5" y1="779" x2="478.5" y2="783" stroke="#808080" stroke-width="1"/>
<text transform="translate(479 797) scale(0.92 1)" fill="#000" text-anchor="middle">08:00</text>
<line x1="519.5" y1="779" x2="519.5" y2="783" stroke="#808080" stroke-width="1"/>
<text transform="translate(520 797) scale(0.92 1)" fill="#000" text-anchor="middle">09:00</text>
<line x1="559.5" y1="779" x2="559.5" y2="783" stroke="#808080" stroke-width="1"/>
<text transform="translate(560 797) scale(0.92 1)" fill="#000" text-anchor="middle">10:00</text>
<line x1="600.5" y1="779" x2="600.5" y2="783" stroke="#808080" stroke-width="1"/>
<text transform="translate(601 797) scale(0.92 1)" fill="#000" text-anchor="middle">11:00</text>
<line x1="641.5" y1="779" x2="641.5" y2="783" stroke="#808080" stroke-width="1"/>
<text transform="translate(642 797) scale(0.92 1)" fill="#000" text-anchor="middle">12:00</text>
<line x1="682.5" y1="779" x2="682.5" y2="783" stroke="#808080" stroke-width="1"/>
<text transform="translate(683 797) scale(0.92 1)" fill="#000" text-anchor="middle">13:00</text>
<line x1="723.5" y1="779" x2="723.5" y2="783" stroke="#808080" stroke-width="1"/>
<text transform="translate(724 797) scale(0.92 1)" fill="#000" text-anchor="middle">14:00</text>
<line x1="764.5" y1="779" x2="764.5" y2="783" stroke="#808080" stroke-width="1"/>
<text transform="translate(765 797) scale(0.92 1)" fill="#000" text-anchor="middle">15:00</text>
<line x1="804.5" y1="779" x2="804.5" y2="783" stroke="#808080" stroke-width="1"/>
<text transform="translate(805 797) scale(0.92 1)" fill="#000" text-anchor="middle">16:00</text>
<line x1="845.5" y1="779" x2="845.5" y2="783" stroke="#808080" stroke-width="1"/>
<text transform="translate(846 797) scale(0.92 1)" fill="#000" text-anchor="middle">17:00</text>
<line x1="886.5" y1="779" x2="886.5" y2="783" stroke="#808080" stroke-width="1"/>
<text transform="translate(887 797) scale(0.92 1)" fill="#000" text-anchor="middle">18:00</text>
<line x1="927.5" y1="779" x2="927.5" y2="783" stroke="#808080" stroke-width="1"/>
<text transform="translate(928 797) scale(0.92 1)" fill="#000" text-anchor="middle">19:00</text>
<line x1="968.5" y1="779" x2="968.5" y2="783" stroke="#808080" stroke-width="1"/>
<text transform="translate(969 797) scale(0.92 1)" fill="#000" text-anchor="middle">20:00</text>
<line x1="1009.5" y1="779" x2="1009.5" y2="783" stroke="#808080" stroke-width="1"/>
<text transform="translate(1010 797) scale(0.92 1)" fill="#000" text-anchor="middle">21:00</text>
<line x1="1049.5" y1="779" x2="1049.5" y2="783" stroke="#808080" stroke-width="1"/>
<text transform="translate(1050 797) scale(0.92 1)" fill="#000" text-anchor="middle">22:00</text>
<line x1="1090.5" y1="779" x2="1090.5" y2="783" stroke="#808080" stroke-width="1"/>
<text transform="translate(1091 797) scale(0.92 1)" fill="#000" text-anchor="middle">23:00</text>
<line x1="1131.5" y1="779" x2="1131.5" y2="783" stroke="#808080" stroke-width="1"/>
<text transform="translate(1132 797) scale(0.92 1)" fill="#000" text-anchor="middle">24:00</text>
<rect x="383" y="774" width="2" height="13" fill="#ffff00"/>
<rect x="1012" y="774" width="2" height="13" fill="#ffff00"/>
</g>
<text transform="translate(10.5 807.8) scale(0.92 1)" fill="#000">15:23</text>
<path d="M40 807v-2h1v-2h1v-1h2v-1h2v1h2v1h1v2h1v2z" fill="#ffff00" shape-rendering="crispEdges"/>
<text transform="translate(351 807.8) scale(0.92 1)" fill="#000">05:42</text>
<path d="M384 797.5v12M378 803.5h12M379.5 799l9 9M388.5 799l-9 9" stroke="#ffff90" stroke-width="1.4" fill="none"/>
<circle cx="384" cy="803.7" r="3.2" fill="#ffff00"/>
<text transform="translate(979.7 807.8) scale(0.92 1)" fill="#000">21:06</text>
<rect x="1010.5" y="801.5" width="5" height="5" fill="none" stroke="#ffff80" shape-rendering="crispEdges"/>
<g shape-rendering="crispEdges">
<rect x="1" y="809" width="1278" height="72" fill="#e2f9cf"/>
<line x1="87.5" y1="809" x2="87.5" y2="881" stroke="#ffffff" stroke-width="1"/>
<line x1="88.5" y1="808" x2="88.5" y2="881" stroke="#808080" stroke-width="1"/>
<line x1="204.5" y1="809" x2="204.5" y2="881" stroke="#ffffff" stroke-width="1"/>
<line x1="205.5" y1="808" x2="205.5" y2="881" stroke="#808080" stroke-width="1"/>
<line x1="322.5" y1="809" x2="322.5" y2="881" stroke="#ffffff" stroke-width="1"/>
<line x1="323.5" y1="808" x2="323.5" y2="881" stroke="#808080" stroke-width="1"/>
<line x1="440.5" y1="809" x2="440.5" y2="881" stroke="#ffffff" stroke-width="1"/>
<line x1="441.5" y1="808" x2="441.5" y2="881" stroke="#808080" stroke-width="1"/>
<line x1="558.5" y1="809" x2="558.5" y2="881" stroke="#ffffff" stroke-width="1"/>
<line x1="559.5" y1="808" x2="559.5" y2="881" stroke="#808080" stroke-width="1"/>
<line x1="676.5" y1="809" x2="676.5" y2="881" stroke="#ffffff" stroke-width="1"/>
<line x1="677.5" y1="808" x2="677.5" y2="881" stroke="#808080" stroke-width="1"/>
<line x1="794.5" y1="809" x2="794.5" y2="881" stroke="#ffffff" stroke-width="1"/>
<line x1="795.5" y1="808" x2="795.5" y2="881" stroke="#808080" stroke-width="1"/>
<line x1="912.5" y1="809" x2="912.5" y2="881" stroke="#ffffff" stroke-width="1"/>
<line x1="913.5" y1="808" x2="913.5" y2="881" stroke="#808080" stroke-width="1"/>
<line x1="1278.5" y1="809" x2="1278.5" y2="881" stroke="#ffffff" stroke-width="1"/>
<line x1="1279.5" y1="808" x2="1279.5" y2="881" stroke="#808080" stroke-width="1"/>
</g>
<text transform="translate(8 827) scale(1 1)" fill="#000" font-weight="bold">Sensor</text>
<text transform="translate(8 843) scale(1 1)" fill="#000" font-weight="bold">MinWert</text>
<text transform="translate(8 859) scale(1 1)" fill="#000" font-weight="bold">MaxWert</text>
<text transform="translate(8 875) scale(1 1)" fill="#000" font-weight="bold">Durchschnitt</text>
<text transform="translate(94 827) scale(1 1)" fill="#000" font-weight="bold">Außen</text>
<text transform="translate(199 827) scale(1 1)" fill="#000" text-anchor="end" font-weight="bold">°C</text>
<text transform="translate(100 843) scale(0.92 1)" fill="#000">23:30</text>
<text transform="translate(199 843) scale(0.92 1)" fill="#000" text-anchor="end">13.9</text>
<text transform="translate(100 859) scale(0.92 1)" fill="#000">13:45</text>
<text transform="translate(199 859) scale(0.92 1)" fill="#000" text-anchor="end">18.7</text>
<text transform="translate(100 875) scale(0.9 1)" fill="#000">( - 5.26 )</text>
<text transform="translate(199 875) scale(0.92 1)" fill="#000" text-anchor="end">15.27</text>
<text transform="translate(212 827) scale(1 1)" fill="#000" font-weight="bold">Feuchte</text>
<text transform="translate(316 827) scale(1 1)" fill="#000" text-anchor="end" font-weight="bold">%</text>
<text transform="translate(218 843) scale(0.92 1)" fill="#000">13:45</text>
<text transform="translate(316 843) scale(0.92 1)" fill="#000" text-anchor="end">60</text>
<text transform="translate(218 859) scale(0.92 1)" fill="#000">05:30</text>
<text transform="translate(316 859) scale(0.92 1)" fill="#000" text-anchor="end">94</text>
<text transform="translate(316 875) scale(0.92 1)" fill="#000" text-anchor="end">84</text>
<text transform="translate(330 827) scale(1 1)" fill="#000" font-weight="bold">Luftdruck</text>
<text transform="translate(434 827) scale(1 1)" fill="#000" text-anchor="end" font-weight="bold">hPa</text>
<text transform="translate(336 843) scale(0.92 1)" fill="#000">13:45</text>
<text transform="translate(434 843) scale(0.92 1)" fill="#000" text-anchor="end">1002.1</text>
<text transform="translate(336 859) scale(0.92 1)" fill="#000">02:15</text>
<text transform="translate(434 859) scale(0.92 1)" fill="#000" text-anchor="end">1004.5</text>
<text transform="translate(330 875) scale(0.9 1)" fill="#000">^1.3hPa/h</text>
<text transform="translate(434 875) scale(0.92 1)" fill="#000" text-anchor="end">1003.1</text>
<text transform="translate(448 827) scale(1 1)" fill="#000" font-weight="bold">Wind</text>
<text transform="translate(553 827) scale(1 1)" fill="#000" text-anchor="end" font-weight="bold">km/h</text>
<text transform="translate(448 843) scale(0.9 1)" fill="#000">Ø 10 min.</text>
<text transform="translate(553 843) scale(0.92 1)" fill="#000" text-anchor="end">0.3</text>
<text transform="translate(454 859) scale(0.92 1)" fill="#000">16:45</text>
<text transform="translate(553 859) scale(0.9 1)" fill="#000" text-anchor="end">NO 36.5</text>
<text transform="translate(454 875) scale(0.9 1)" fill="#000">9,0 km</text>
<text transform="translate(553 875) scale(0.92 1)" fill="#000" text-anchor="end">9.0</text>
<text transform="translate(566 827) scale(1 1)" fill="#000" font-weight="bold">Richtung</text>
<text transform="translate(572 843) scale(0.92 1)" fill="#000">16:45</text>
<text transform="translate(669 843) scale(0.9 1)" fill="#000" text-anchor="end">NO</text>
<text transform="translate(572 859) scale(0.92 1)" fill="#000">15:00</text>
<text transform="translate(669 859) scale(0.9 1)" fill="#000" text-anchor="end">NW</text>
<text transform="translate(669 875) scale(0.9 1)" fill="#000" text-anchor="end">S</text>
<text transform="translate(684 827) scale(0.9 1)" fill="#000">Regen/1h</text>
<text transform="translate(789 827) scale(0.9 1)" fill="#000" text-anchor="end">0.00l/m²</text>
<text transform="translate(684 843) scale(0.9 1)" fill="#000">Regen/Tag</text>
<text transform="translate(789 843) scale(0.9 1)" fill="#000" text-anchor="end">5.81l/m²</text>
<text transform="translate(684 859) scale(0.9 1)" fill="#000">Neumond</text>
<text transform="translate(789 859) scale(0.92 1)" fill="#000" text-anchor="end">23.08.06</text>
<text transform="translate(684 875) scale(0.9 1)" fill="#000">Vollmond</text>
<text transform="translate(789 875) scale(0.92 1)" fill="#000" text-anchor="end">09.08.06</text>
<text transform="translate(802 827) scale(0.9 1)" fill="#000">Wolkenunterg</text>
<text transform="translate(907 827) scale(0.9 1)" fill="#000" text-anchor="end">301m</text>
<text transform="translate(802 843) scale(0.9 1)" fill="#000">Sichtweite</text>
<text transform="translate(907 843) scale(0.9 1)" fill="#000" text-anchor="end">6-10km</text>
<text transform="translate(802 859) scale(0.9 1)" fill="#000">Max. Sonnen</text>
<text transform="translate(907 859) scale(0.9 1)" fill="#000" text-anchor="end">56,005°</text>
<text transform="translate(802 875) scale(0.9 1)" fill="#000">Sonnen Pos</text>
<text transform="translate(907 875) scale(0.9 1)" fill="#000" text-anchor="end">-17,292°</text>
<text transform="translate(920 827) scale(1 1)" fill="#000" font-weight="bold">PMV+2:18</text>
<text transform="translate(921 843) scale(0.9 1)" fill="#000">WC 14.0 °C</text>
<text transform="translate(921 859) scale(0.9 1)" fill="#000">TP 12.0 °C</text>
<text transform="translate(921 875) scale(0.9 1)" fill="#000">0.1hPa/3h</text>
</svg></body></html>
